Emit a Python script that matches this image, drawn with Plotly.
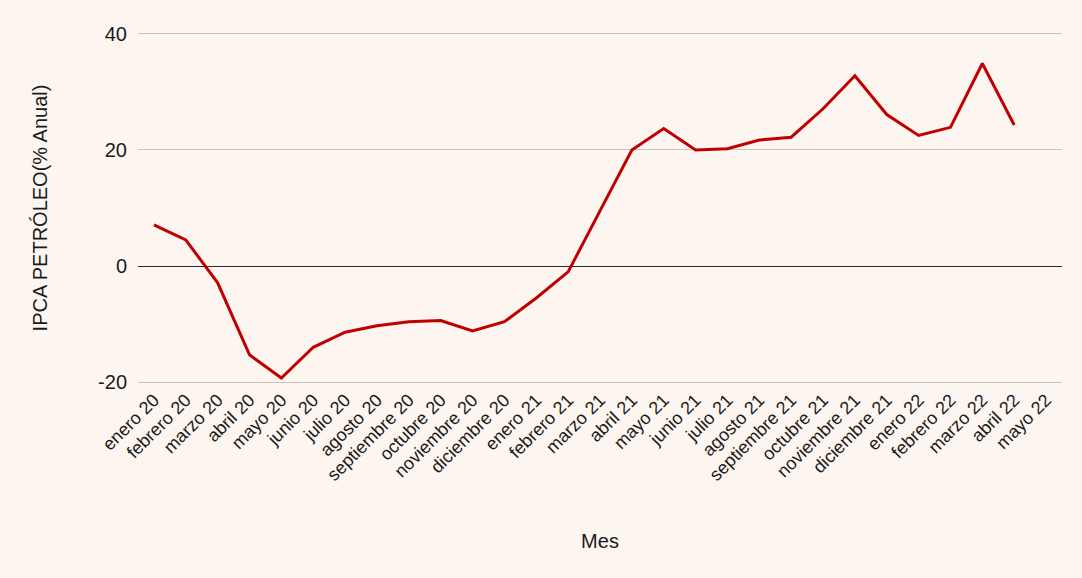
import plotly.graph_objects as go

meses = ["enero 20", "febrero 20", "marzo 20", "abril 20", "mayo 20", "junio 20",
         "julio 20", "agosto 20", "septiembre 20", "octubre 20", "noviembre 20",
         "diciembre 20", "enero 21", "febrero 21", "marzo 21", "abril 21", "mayo 21",
         "junio 21", "julio 21", "agosto 21", "septiembre 21", "octubre 21",
         "noviembre 21", "diciembre 21", "enero 22", "febrero 22", "marzo 22",
         "abril 22", "mayo 22"]

ipca_petroleo = [7.1, 4.5, -2.9, -15.3, -19.3, -14.0, -11.4, -10.3, -9.6, -9.4,
                 -11.2, -9.6, -5.5, -1.0, 9.5, 20.0, 23.7, 20.0, 20.2, 21.7, 22.2,
                 27.1, 32.8, 26.1, 22.5, 23.9, 34.9, 24.3, None]

y_ticks = [-20, 0, 20, 40]
y_tick_labels = ["-20", "0", "20", "40"]

bg = "#FDF6F0"
font = "Liberation Sans, Arial, sans-serif"

fig = go.Figure()
fig.add_trace(go.Scatter(
    x=meses, y=ipca_petroleo, mode="lines",
    line=dict(color="#C00000", width=3),
    connectgaps=False, showlegend=False,
))

fig.update_layout(
    width=1082, height=578,
    paper_bgcolor=bg, plot_bgcolor=bg,
    margin=dict(l=138, r=20, t=31, b=193),
    font=dict(family=font, size=18, color="#1a1a1a"),
    xaxis=dict(
        type="category", categoryorder="array", categoryarray=meses,
        range=[-0.5, len(meses) - 0.5],
        tickangle=-45, showgrid=False, zeroline=False, showline=False,
        ticks="", tickfont=dict(size=18),
        title=dict(text="Mes", font=dict(size=20), standoff=50),
    ),
    yaxis=dict(
        range=[-20.5, 40.5], tickvals=y_ticks, ticktext=y_tick_labels,
        showgrid=True, gridcolor="#CFC3BD", gridwidth=1.3,
        zeroline=True, zerolinecolor="#2b2b2b", zerolinewidth=1.3,
        showline=False, ticks="", tickfont=dict(size=20), ticklabelstandoff=10,
        title=dict(text="IPCA PETRÓLEO(% Anual)", font=dict(size=20), standoff=45),
    ),
)

fig.write_html("out.html")
